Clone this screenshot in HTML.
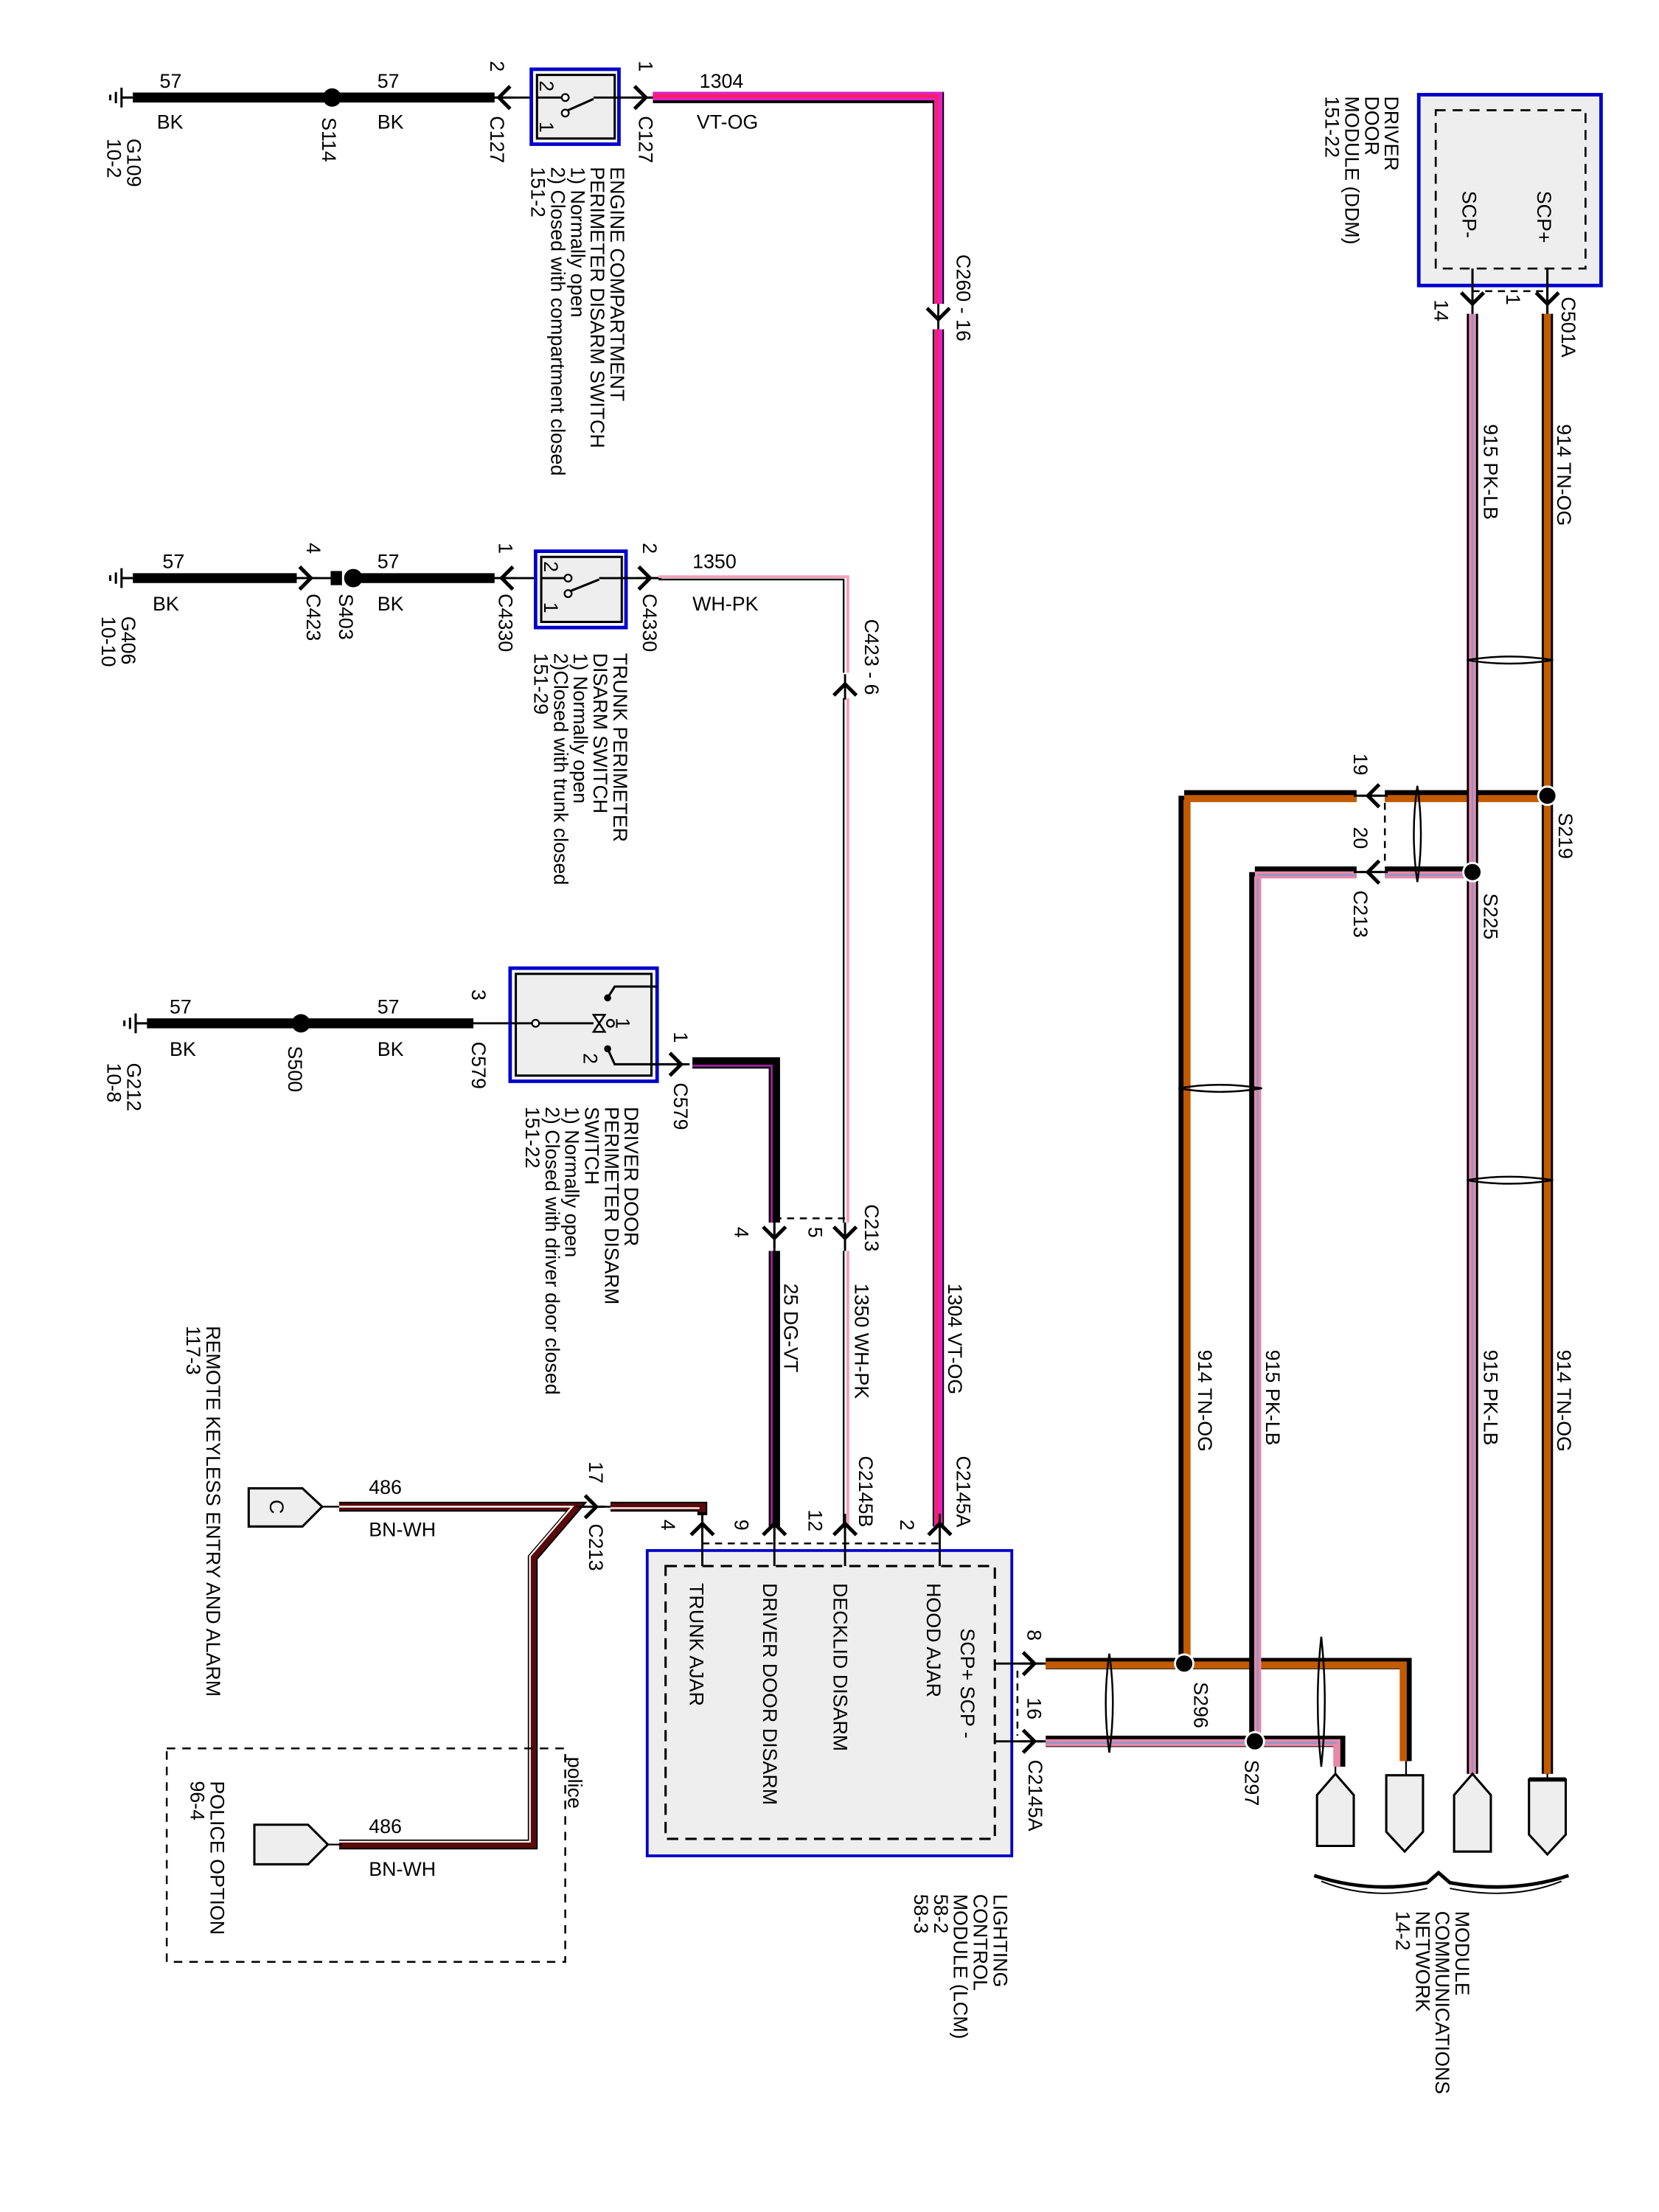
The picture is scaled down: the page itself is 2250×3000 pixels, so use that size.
<!DOCTYPE html>
<html><head><meta charset="utf-8"><style>
html,body{margin:0;padding:0;background:#fff}
svg{display:block}
text{font-family:"Liberation Sans",sans-serif;font-size:14px;fill:#000}
</style></head><body>
<svg width="2250" height="3000" viewBox="0 0 1174 1565" preserveAspectRatio="none" xmlns="http://www.w3.org/2000/svg">
<defs>
<g id="chR"><path d="M-6,-8 L2,0 L-6,8" fill="none" stroke="#000" stroke-width="2.6"/><line x1="-8" y1="0" x2="8" y2="0" stroke="#000" stroke-width="1.5"/></g>
<g id="chL"><path d="M6,-8 L-2,0 L6,8" fill="none" stroke="#000" stroke-width="2.6"/><line x1="-8" y1="0" x2="8" y2="0" stroke="#000" stroke-width="1.5"/></g>
<g id="chD"><path d="M-8,-6 L0,2 L8,-6" fill="none" stroke="#000" stroke-width="2.6"/><line x1="0" y1="-9" x2="0" y2="9" stroke="#000" stroke-width="1.5"/></g>
<g id="chU"><path d="M-8,6 L0,-2 L8,6" fill="none" stroke="#000" stroke-width="2.6"/><line x1="0" y1="-9" x2="0" y2="9" stroke="#000" stroke-width="1.5"/></g>
<g id="gnd"><line x1="0" y1="-7" x2="0" y2="7" stroke="#000" stroke-width="1.6"/><line x1="-4" y1="-4" x2="-4" y2="4" stroke="#000" stroke-width="1.6"/><line x1="-8" y1="-2" x2="-8" y2="2" stroke="#000" stroke-width="1.6"/><line x1="0" y1="0" x2="8" y2="0" stroke="#000" stroke-width="1.6"/></g>
</defs>

<!-- ===== Row 1 ===== -->
<use href="#gnd" x="86" y="69"/>
<line x1="94" y1="69" x2="350" y2="69" stroke="#000" stroke-width="7"/>
<circle cx="235" cy="69" r="6.5" fill="#000"/>
<line x1="345" y1="69" x2="380" y2="69" stroke="#000" stroke-width="1.5"/>
<use href="#chL" x="355" y="69"/>
<text x="113" y="62">57</text><text x="111" y="91">BK</text>
<text x="267" y="62">57</text><text x="267" y="91">BK</text>
<text transform="translate(90,98) rotate(90)">G109</text>
<text transform="translate(76,98) rotate(90)">10-2</text>
<text transform="translate(228,83) rotate(90)">S114</text>
<text transform="translate(347,43) rotate(90)">2</text>
<text transform="translate(347,82) rotate(90)">C127</text>
<rect x="376" y="49" width="62" height="53" fill="#fff" stroke="#00c" stroke-width="2.5"/>
<rect x="380" y="53" width="55" height="45" fill="#eee" stroke="#000" stroke-width="1.6"/>
<line x1="380" y1="69" x2="398" y2="69" stroke="#000" stroke-width="1.5"/>
<circle cx="400" cy="69" r="2.5" fill="#fff" stroke="#000" stroke-width="1.2"/>
<circle cx="400" cy="80" r="2.5" fill="#fff" stroke="#000" stroke-width="1.2"/>
<line x1="402" y1="78" x2="420" y2="70" stroke="#000" stroke-width="1.6"/>
<line x1="420" y1="69" x2="462" y2="69" stroke="#000" stroke-width="1.5"/>
<text transform="translate(382,57) rotate(90)" font-size="12">2</text>
<text transform="translate(382,86) rotate(90)" font-size="12">1</text>
<use href="#chR" x="455" y="69"/>
<text transform="translate(452,43) rotate(90)">1</text>
<text transform="translate(452,82) rotate(90)">C127</text>
<polyline points="462,69 664,69 664,1080" fill="none" stroke="#000" stroke-width="8"/>
<polyline points="462,68 664,68 664,1080" fill="none" stroke="#e020c8" stroke-width="6"/>
<polyline points="462,68 663,68 663,1080" fill="none" stroke="#ff2050" stroke-width="2"/>
<rect x="655" y="215" width="20" height="18" fill="#fff"/>
<use href="#chD" x="664" y="224"/>
<text transform="translate(495,62)">1304</text><text x="493" y="91">VT-OG</text>
<text transform="translate(677,180) rotate(90)">C260 - 16</text>
<text transform="translate(432,118) rotate(90)">ENGINE COMPARTMENT</text>
<text transform="translate(418,118) rotate(90)">PERIMETER DISARM SWITCH</text>
<text transform="translate(404,118) rotate(90)">1) Normally open</text>
<text transform="translate(390,118) rotate(90)">2) Closed with compartment closed</text>
<text transform="translate(376,118) rotate(90)">151-2</text>

<!-- ===== Row 2 ===== -->
<use href="#gnd" x="86" y="409"/>
<line x1="94" y1="409" x2="210" y2="409" stroke="#000" stroke-width="7"/>
<line x1="205" y1="409" x2="240" y2="409" stroke="#000" stroke-width="1.5"/>
<use href="#chR" x="218" y="409"/>
<rect x="234" y="404" width="8" height="10" fill="#000"/>
<circle cx="250" cy="409" r="6.5" fill="#000"/>
<line x1="245" y1="409" x2="350" y2="409" stroke="#000" stroke-width="7"/>
<line x1="345" y1="409" x2="383" y2="409" stroke="#000" stroke-width="1.5"/>
<use href="#chL" x="357" y="409"/>
<text x="115" y="402">57</text><text x="108" y="432">BK</text>
<text x="267" y="402">57</text><text x="267" y="432">BK</text>
<text transform="translate(217,384) rotate(90)">4</text>
<text transform="translate(217,420) rotate(90)">C423</text>
<text transform="translate(240,420) rotate(90)">S403</text>
<text transform="translate(86,436) rotate(90)">G406</text>
<text transform="translate(72,436) rotate(90)">10-10</text>
<text transform="translate(353,384) rotate(90)">1</text>
<text transform="translate(353,420) rotate(90)">C4330</text>
<rect x="379" y="390" width="64" height="54" fill="#fff" stroke="#00c" stroke-width="2.5"/>
<rect x="383" y="394" width="57" height="46" fill="#eee" stroke="#000" stroke-width="1.6"/>
<line x1="383" y1="409" x2="400" y2="409" stroke="#000" stroke-width="1.5"/>
<circle cx="402" cy="409" r="2.5" fill="#fff" stroke="#000" stroke-width="1.2"/>
<circle cx="402" cy="420" r="2.5" fill="#fff" stroke="#000" stroke-width="1.2"/>
<line x1="404" y1="418" x2="424" y2="410" stroke="#000" stroke-width="1.6"/>
<line x1="424" y1="409" x2="468" y2="409" stroke="#000" stroke-width="1.5"/>
<text transform="translate(385,397) rotate(90)" font-size="12">2</text>
<text transform="translate(385,426) rotate(90)" font-size="12">1</text>
<use href="#chR" x="458" y="409"/>
<text transform="translate(455,384) rotate(90)">2</text>
<text transform="translate(455,420) rotate(90)">C4330</text>
<polyline points="466,408 600,408 600,1080" fill="none" stroke="#f5a0b8" stroke-width="2"/>
<polyline points="466,410 597,410 597,1080" fill="none" stroke="#000" stroke-width="1.2"/>
<rect x="590" y="476" width="18" height="18" fill="#fff"/>
<use href="#chU" x="598" y="486"/>
<text x="490" y="402">1350</text><text x="490" y="432">WH-PK</text>
<text transform="translate(612,438) rotate(90)">C423 - 6</text>
<text transform="translate(434,462) rotate(90)">TRUNK PERIMETER</text>
<text transform="translate(420,462) rotate(90)">DISARM SWITCH</text>
<text transform="translate(406,462) rotate(90)">1) Normally open</text>
<text transform="translate(392,462) rotate(90)">2)Closed with trunk closed</text>
<text transform="translate(378,462) rotate(90)">151-29</text>

<!-- ===== Row 3 ===== -->
<use href="#gnd" x="96" y="724"/>
<line x1="104" y1="724" x2="335" y2="724" stroke="#000" stroke-width="7"/>
<circle cx="213" cy="724" r="6.5" fill="#000"/>
<line x1="330" y1="724" x2="395" y2="724" stroke="#000" stroke-width="1.5"/>
<text x="120" y="717">57</text><text x="120" y="747">BK</text>
<text x="267" y="717">57</text><text x="267" y="747">BK</text>
<text transform="translate(90,752) rotate(90)">G212</text>
<text transform="translate(76,752) rotate(90)">10-8</text>
<text transform="translate(204,740) rotate(90)">S500</text>
<text transform="translate(334,700) rotate(90)">3</text>
<text transform="translate(334,737) rotate(90)">C579</text>
<rect x="361" y="685" width="104" height="80" fill="#fff" stroke="#00c" stroke-width="2.5"/>
<rect x="365" y="689" width="96" height="72" fill="#eee" stroke="#000" stroke-width="1.6"/>
<line x1="361" y1="724" x2="420" y2="724" stroke="#000" stroke-width="1.5"/>
<circle cx="379" cy="724" r="2.5" fill="#fff" stroke="#000" stroke-width="1.2"/>
<path d="M420,718 L428,730 L420,730 L428,718 Z" fill="#fff" stroke="#000" stroke-width="1.3"/>
<circle cx="432" cy="724" r="2.5" fill="#fff" stroke="#000" stroke-width="1.2"/>
<text transform="translate(436,720) rotate(90)" font-size="12">1</text>
<circle cx="430" cy="706" r="2.5" fill="#000"/>
<path d="M430,706 L435,698 L465,698" fill="none" stroke="#000" stroke-width="1.6"/>
<circle cx="430" cy="742" r="2.5" fill="#000"/>
<path d="M430,742 L435,753 L485,753" fill="none" stroke="#000" stroke-width="1.6"/>
<text transform="translate(413,745) rotate(90)" font-size="12">2</text>
<use href="#chR" x="480" y="753"/>
<text transform="translate(477,730) rotate(90)">1</text>
<text transform="translate(477,766) rotate(90)">C579</text>
<polyline points="490,752 548,752 548,865" fill="none" stroke="#000" stroke-width="8"/>
<polyline points="490,754 546,754 546,865" fill="none" stroke="#a020a0" stroke-width="1.5"/>
<line x1="548" y1="865" x2="548" y2="885" stroke="#000" stroke-width="1.5"/>
<line x1="548" y1="885" x2="548" y2="1080" stroke="#000" stroke-width="8"/>
<line x1="546" y1="885" x2="546" y2="1080" stroke="#a020a0" stroke-width="1.5"/>
<line x1="548" y1="862" x2="598" y2="862" stroke="#000" stroke-width="1.3" stroke-dasharray="5,4"/>
<use href="#chD" x="548" y="874"/>
<rect x="594" y="865" width="9" height="20" fill="#fff"/>
<line x1="598" y1="865" x2="598" y2="885" stroke="#000" stroke-width="1.5"/>
<use href="#chD" x="598" y="874"/>
<text transform="translate(520,868) rotate(90)">4</text>
<text transform="translate(572,868) rotate(90)">5</text>
<text transform="translate(612,852) rotate(90)">C213</text>
<text transform="translate(555,908) rotate(90)">25  DG-VT</text>
<text transform="translate(605,908) rotate(90)">1350  WH-PK</text>
<text transform="translate(671,908) rotate(90)">1304  VT-OG</text>
<text transform="translate(608,1030) rotate(90)">C2145B</text>
<text transform="translate(677,1030) rotate(90)">C2145A</text>
<text transform="translate(442,783) rotate(90)">DRIVER DOOR</text>
<text transform="translate(428,783) rotate(90)">PERIMETER DISARM</text>
<text transform="translate(414,783) rotate(90)">SWITCH</text>
<text transform="translate(400,783) rotate(90)">1) Normally open</text>
<text transform="translate(386,783) rotate(90)">2) Closed with driver door closed</text>
<text transform="translate(372,783) rotate(90)">151-22</text>

<!-- ===== LCM ===== -->
<rect x="458" y="1097" width="258" height="216" fill="#eee" stroke="#00c" stroke-width="2"/>
<rect x="471" y="1108" width="233" height="193" fill="none" stroke="#000" stroke-width="1.6" stroke-dasharray="8,5"/>
<line x1="497" y1="1092" x2="665" y2="1092" stroke="#000" stroke-width="1.3" stroke-dasharray="5,4"/>
<line x1="497" y1="1066" x2="497" y2="1108" stroke="#000" stroke-width="1.5"/>
<line x1="548" y1="1078" x2="548" y2="1108" stroke="#000" stroke-width="1.5"/>
<line x1="598" y1="1078" x2="598" y2="1108" stroke="#000" stroke-width="1.5"/>
<line x1="665" y1="1078" x2="665" y2="1108" stroke="#000" stroke-width="1.5"/>
<use href="#chU" x="497" y="1080"/><use href="#chU" x="548" y="1080"/><use href="#chU" x="598" y="1080"/><use href="#chU" x="665" y="1080"/>
<text transform="translate(468,1075) rotate(90)">4</text>
<text transform="translate(520,1075) rotate(90)">9</text>
<text transform="translate(572,1068) rotate(90)">12</text>
<text transform="translate(637,1075) rotate(90)">2</text>
<text transform="translate(656,1120) rotate(90)">HOOD AJAR</text>
<text transform="translate(590,1120) rotate(90)">DECKLID DISARM</text>
<text transform="translate(540,1120) rotate(90)">DRIVER DOOR DISARM</text>
<text transform="translate(488,1120) rotate(90)">TRUNK AJAR</text>
<text transform="translate(680,1152) rotate(90)">SCP+   SCP -</text>
<line x1="704" y1="1177" x2="740" y2="1177" stroke="#000" stroke-width="1.5"/>
<line x1="704" y1="1232" x2="740" y2="1232" stroke="#000" stroke-width="1.5"/>
<line x1="720" y1="1182" x2="720" y2="1228" stroke="#000" stroke-width="1.3" stroke-dasharray="5,4"/>
<use href="#chR" x="730" y="1177"/><use href="#chR" x="730" y="1232"/>
<text transform="translate(727,1153) rotate(90)">8</text>
<text transform="translate(727,1201) rotate(90)">16</text>
<text transform="translate(728,1245) rotate(90)">C2145A</text>
<text transform="translate(703,1340) rotate(90)">LIGHTING</text>
<text transform="translate(689,1340) rotate(90)">CONTROL</text>
<text transform="translate(675,1340) rotate(90)">MODULE (LCM)</text>
<text transform="translate(661,1340) rotate(90)">58-2</text>
<text transform="translate(647,1340) rotate(90)">58-3</text>

<!-- ===== Right side network ===== -->
<polyline points="740,1177 995,1177 995,1246" fill="none" stroke="#000" stroke-width="8"/>
<polyline points="740,1178 993,1178 993,1246" fill="none" stroke="#c25a00" stroke-width="5"/>
<polyline points="838,563 838,1177" fill="none" stroke="#000" stroke-width="8"/>
<polyline points="840,566 840,1177" fill="none" stroke="#c25a00" stroke-width="5"/>
<polyline points="838,563 960,563" fill="none" stroke="#000" stroke-width="8"/>
<polyline points="838,565 960,565" fill="none" stroke="#c25a00" stroke-width="5"/>
<polyline points="980,563 1095,563" fill="none" stroke="#000" stroke-width="8"/>
<polyline points="980,565 1095,565" fill="none" stroke="#c25a00" stroke-width="5"/>
<polyline points="740,1232 948,1232 948,1250" fill="none" stroke="#000" stroke-width="8"/>
<polyline points="740,1233 946,1233 946,1250" fill="none" stroke="#e888a8" stroke-width="5"/>
<line x1="740" y1="1233" x2="946" y2="1233" stroke="#8898c8" stroke-width="1.3"/>
<polyline points="888,617 888,1232" fill="none" stroke="#000" stroke-width="8"/>
<polyline points="890,620 890,1232" fill="none" stroke="#e888a8" stroke-width="5"/>
<line x1="890" y1="620" x2="890" y2="1232" stroke="#8898c8" stroke-width="1.3"/>
<polyline points="888,617 960,617" fill="none" stroke="#000" stroke-width="8"/>
<polyline points="888,619 960,619" fill="none" stroke="#e888a8" stroke-width="5"/>
<polyline points="980,617 1042,617" fill="none" stroke="#000" stroke-width="8"/>
<polyline points="980,619 1042,619" fill="none" stroke="#e888a8" stroke-width="5"/>
<line x1="890" y1="619" x2="960" y2="619" stroke="#8898c8" stroke-width="1.3"/>
<line x1="980" y1="619" x2="1042" y2="619" stroke="#8898c8" stroke-width="1.3"/>
<line x1="958" y1="563" x2="982" y2="563" stroke="#000" stroke-width="1.5"/>
<line x1="958" y1="617" x2="982" y2="617" stroke="#000" stroke-width="1.5"/>
<use href="#chL" x="970" y="563"/><use href="#chL" x="970" y="617"/>
<line x1="980" y1="568" x2="980" y2="612" stroke="#000" stroke-width="1.3" stroke-dasharray="5,4"/>
<text transform="translate(958,533) rotate(90)">19</text>
<text transform="translate(958,585) rotate(90)">20</text>
<text transform="translate(958,630) rotate(90)">C213</text>
<line x1="1042" y1="222" x2="1042" y2="1255" stroke="#000" stroke-width="8"/>
<line x1="1042" y1="222" x2="1042" y2="1255" stroke="#e888a8" stroke-width="5"/>
<line x1="1042" y1="222" x2="1042" y2="1255" stroke="#8898c8" stroke-width="1.3"/>
<line x1="1095" y1="222" x2="1095" y2="1255" stroke="#000" stroke-width="8"/>
<line x1="1095" y1="222" x2="1095" y2="1255" stroke="#c25a00" stroke-width="5"/>
<line x1="1042" y1="1255" x2="1042" y2="1262" stroke="#000" stroke-width="1.2"/>
<line x1="1095" y1="1255" x2="1095" y2="1262" stroke="#000" stroke-width="1.2"/>
<line x1="995" y1="1246" x2="995" y2="1256" stroke="#000" stroke-width="1.2"/>
<line x1="945" y1="1250" x2="945" y2="1256" stroke="#000" stroke-width="1.2"/>
<circle cx="1095" cy="563" r="6.5" fill="#000" stroke="#fff" stroke-width="1.5"/>
<circle cx="1042" cy="617" r="6.5" fill="#000" stroke="#fff" stroke-width="1.5"/>
<circle cx="838" cy="1177" r="6.5" fill="#000" stroke="#fff" stroke-width="1.5"/>
<circle cx="888" cy="1232" r="6.5" fill="#000" stroke="#fff" stroke-width="1.5"/>
<text transform="translate(1103,575) rotate(90)">S219</text>
<text transform="translate(1050,632) rotate(90)">S225</text>
<text transform="translate(845,1190) rotate(90)">S296</text>
<text transform="translate(881,1245) rotate(90)">S297</text>
<g fill="none" stroke="#000" stroke-width="1.3">
<path d="M1038,467 Q1068,462 1099,467 Q1068,472 1038,467 Z"/>
<path d="M1038,835 Q1068,830 1099,835 Q1068,840 1038,835 Z"/>
<path d="M834,770 Q863,765 893,770 Q863,775 834,770 Z"/>
<path d="M1003,556 Q998,590 1003,624 Q1008,590 1003,556 Z"/>
<path d="M785,1170 Q780,1205 785,1240 Q790,1205 785,1170 Z"/>
<path d="M935,1158 Q930,1204 935,1250 Q940,1204 935,1158 Z"/>
</g>
<text transform="translate(848,955) rotate(90)">914   TN-OG</text>
<text transform="translate(896,955) rotate(90)">915   PK-LB</text>
<text transform="translate(1050,955) rotate(90)">915   PK-LB</text>
<text transform="translate(1102,955) rotate(90)">914   TN-OG</text>
<text transform="translate(1050,300) rotate(90)">915   PK-LB</text>
<text transform="translate(1102,300) rotate(90)">914   TN-OG</text>
<rect x="1004" y="67" width="129" height="135" fill="#eee" stroke="#00c" stroke-width="2.5"/>
<rect x="1016" y="78" width="106" height="112" fill="none" stroke="#000" stroke-width="1.4" stroke-dasharray="7,5"/>
<text transform="translate(1088,135) rotate(90)">SCP+</text>
<text transform="translate(1035,135) rotate(90)">SCP-</text>
<line x1="1042" y1="190" x2="1042" y2="222" stroke="#000" stroke-width="1.6"/>
<line x1="1095" y1="190" x2="1095" y2="222" stroke="#000" stroke-width="1.6"/>
<line x1="1042" y1="206" x2="1095" y2="206" stroke="#000" stroke-width="1.3" stroke-dasharray="5,4"/>
<use href="#chD" x="1042" y="213"/><use href="#chD" x="1095" y="213"/>
<text transform="translate(1015,212) rotate(90)">14</text>
<text transform="translate(1066,208) rotate(90)">1</text>
<text transform="translate(1105,210) rotate(90)">C501A</text>
<text transform="translate(980,68) rotate(90)">DRIVER</text>
<text transform="translate(966,68) rotate(90)">DOOR</text>
<text transform="translate(952,68) rotate(90)">MODULE (DDM)</text>
<text transform="translate(938,68) rotate(90)">151-22</text>
<g fill="#eee" stroke="#000" stroke-width="1.6">
<path d="M945,1255 L958,1270 L958,1306 L932,1306 L932,1270 Z"/>
<path d="M981,1256 L1007,1256 L1007,1296 L994,1310 L981,1296 Z"/>
<path d="M1042,1255 L1055,1270 L1055,1310 L1029,1310 L1029,1270 Z"/>
<path d="M1082,1259 L1108,1259 L1108,1298 L1095,1312 L1082,1298 Z"/>
</g>
<line x1="1082" y1="1259" x2="1108" y2="1259" stroke="#000" stroke-width="3"/>
<path d="M930,1327 Q970,1340 1010,1332 L1018,1325 L1026,1332 Q1070,1340 1110,1327" fill="none" stroke="#000" stroke-width="2.5"/>
<path d="M935,1331 Q970,1345 1010,1336" fill="none" stroke="#000" stroke-width="1"/>
<path d="M1026,1336 Q1070,1345 1105,1331" fill="none" stroke="#000" stroke-width="1"/>
<text transform="translate(1030,1352) rotate(90)">MODULE</text>
<text transform="translate(1016,1352) rotate(90)">COMMUNICATIONS</text>
<text transform="translate(1002,1352) rotate(90)">NETWORK</text>
<text transform="translate(988,1352) rotate(90)">14-2</text>

<!-- ===== Bottom left ===== -->
<text transform="translate(146,938) rotate(90)">REMOTE KEYLESS ENTRY AND ALARM</text>
<text transform="translate(132,938) rotate(90)">117-3</text>
<path d="M176,1053 L214,1053 L228,1066 L214,1080 L176,1080 Z" fill="#eee" stroke="#000" stroke-width="1.6"/>
<text transform="translate(191,1061) rotate(90)">C</text>
<line x1="228" y1="1066" x2="240" y2="1066" stroke="#000" stroke-width="1.2"/>
<polyline points="240,1066 408,1066 377,1102 377,1305 240,1305" fill="none" stroke="#000" stroke-width="7"/>
<polyline points="240,1066 408,1066 377,1102 377,1305 240,1305" fill="none" stroke="#5a0a0a" stroke-width="5"/>
<polyline points="240,1066 405,1066 375,1101 375,1303 240,1303" fill="none" stroke="#fff" stroke-width="1.2"/>
<line x1="408" y1="1066" x2="432" y2="1066" stroke="#000" stroke-width="1.3"/>
<use href="#chR" x="420" y="1066"/>
<polyline points="432,1066 497,1066 497,1072" fill="none" stroke="#000" stroke-width="7"/>
<polyline points="432,1066 497,1066 497,1070" fill="none" stroke="#5a0a0a" stroke-width="5"/>
<line x1="432" y1="1067" x2="495" y2="1067" stroke="#fff" stroke-width="1.2"/>
<text transform="translate(417,1034) rotate(90)">17</text>
<text transform="translate(417,1078) rotate(90)">C213</text>
<text x="261" y="1057">486</text><text x="261" y="1087">BN-WH</text>
<rect x="118" y="1237" width="282" height="151" fill="none" stroke="#000" stroke-width="1.3" stroke-dasharray="6,5"/>
<text transform="translate(402,1243) rotate(90)">police</text>
<path d="M180,1291 L218,1291 L232,1305 L218,1319 L180,1319 Z" fill="#eee" stroke="#000" stroke-width="1.6"/>
<line x1="232" y1="1305" x2="242" y2="1305" stroke="#000" stroke-width="1.2"/>
<text transform="translate(149,1260) rotate(90)">POLICE OPTION</text>
<text transform="translate(135,1260) rotate(90)">96-4</text>
<text x="261" y="1297">486</text><text x="261" y="1327">BN-WH</text>
</svg>
</body></html>
